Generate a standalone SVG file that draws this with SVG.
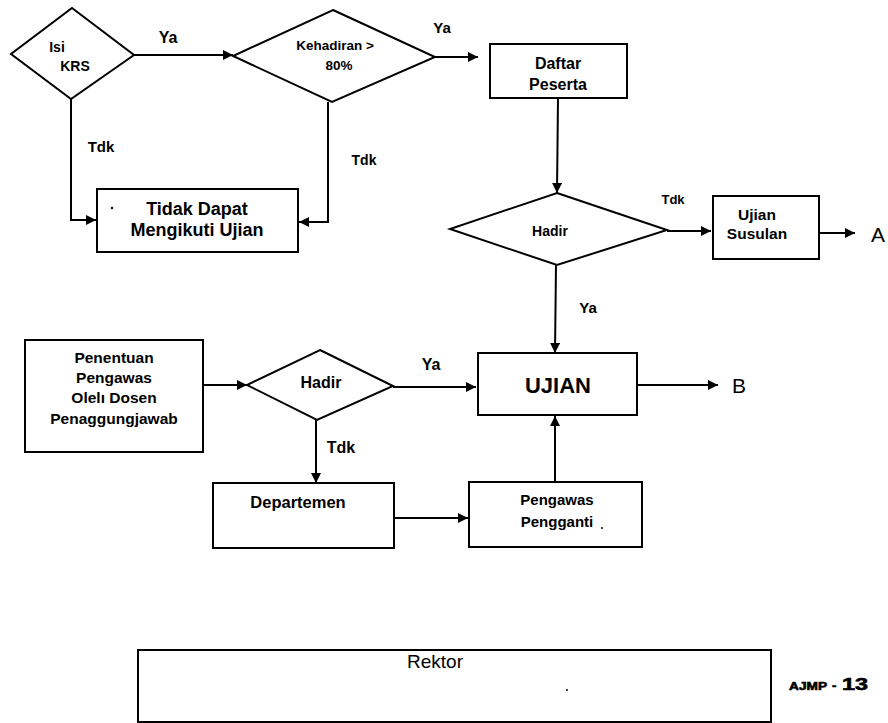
<svg xmlns="http://www.w3.org/2000/svg" width="888" height="723" viewBox="0 0 888 723">
  <style>
    .shape { fill: #fff; stroke: #000; stroke-width: 2; }
    .edge { fill: none; stroke: #000; stroke-width: 2; }
    .lbl { font-family: "Liberation Sans", Arial, sans-serif; font-weight: bold; fill: #000; text-anchor: middle; }
    .big { font-family: "Liberation Sans", Arial, sans-serif; fill: #000; }
    .heavy { font-family: "Liberation Sans", Arial, sans-serif; font-weight: bold; fill: #000; stroke: #000; stroke-width: 0.6; }
    .speck { fill: #000; }
  </style>
  <defs>
    <marker id="arrow" markerUnits="userSpaceOnUse" markerWidth="11" markerHeight="10" refX="10" refY="5" orient="auto">
      <path d="M0,0 L10,5 L0,10 Z" fill="#000"/>
    </marker>
  </defs>
  <rect width="888" height="723" fill="#fff"/>

  <!-- connectors -->
  <g id="connectors">
    <line class="edge" x1="134" y1="55" x2="233" y2="55" marker-end="url(#arrow)"/>
    <text class="lbl" x="168" y="43" font-size="16">Ya</text>
    <polyline class="edge" points="71,99 71,220 96,220" marker-end="url(#arrow)"/>
    <text class="lbl" x="101" y="152" font-size="15">Tdk</text>

    <line class="edge" x1="435" y1="57" x2="478" y2="57" marker-end="url(#arrow)"/>
    <text class="lbl" x="442" y="33" font-size="15">Ya</text>
    <polyline class="edge" points="328,102 328,222 299,222" marker-end="url(#arrow)"/>
    <text class="lbl" x="364" y="165" font-size="14">Tdk</text>

    <line class="edge" x1="558" y1="98" x2="557" y2="193" marker-end="url(#arrow)"/>
    <line class="edge" x1="667" y1="231" x2="711" y2="231" marker-end="url(#arrow)"/>
    <text class="lbl" x="673" y="204" font-size="13">Tdk</text>
    <line class="edge" x1="819" y1="233" x2="855" y2="233" marker-end="url(#arrow)"/>
    <text class="big" x="871" y="242" font-size="21">A</text>

    <line class="edge" x1="556" y1="265" x2="555" y2="353" marker-end="url(#arrow)"/>
    <text class="lbl" x="588" y="313" font-size="15">Ya</text>
    <line class="edge" x1="637" y1="385" x2="718" y2="385" marker-end="url(#arrow)"/>
    <text class="big" x="732" y="393" font-size="21">B</text>

    <line class="edge" x1="203" y1="385" x2="247" y2="385" marker-end="url(#arrow)"/>
    <line class="edge" x1="393" y1="387" x2="476" y2="387" marker-end="url(#arrow)"/>
    <text class="lbl" x="431" y="370" font-size="16">Ya</text>
    <line class="edge" x1="316" y1="420" x2="316" y2="483" marker-end="url(#arrow)"/>
    <text class="lbl" x="341" y="453" font-size="16">Tdk</text>
    <line class="edge" x1="394" y1="518" x2="468" y2="518" marker-end="url(#arrow)"/>
    <line class="edge" x1="555" y1="482" x2="555" y2="416" marker-end="url(#arrow)"/>
  </g>

  <g id="isi-krs">
    <polygon class="shape" points="72,8 134,55 71,99 11,54"/>
    <text class="lbl" x="57" y="52" font-size="14">Isi</text>
    <text class="lbl" x="75" y="71" font-size="14">KRS</text>
  </g>

  <g id="kehadiran">
    <polygon class="shape" points="333,10 435,57 332,102 233,56"/>
    <text class="lbl" x="335" y="50" font-size="13.5">Kehadiran &gt;</text>
    <text class="lbl" x="339" y="70" font-size="13.5">80%</text>
  </g>

  <g id="daftar-peserta">
    <rect class="shape" x="490" y="44" width="137" height="54"/>
    <text class="lbl" x="558" y="69" font-size="16">Daftar</text>
    <text class="lbl" x="558" y="90" font-size="16">Peserta</text>
  </g>

  <g id="tidak-dapat">
    <rect class="shape" x="97" y="189" width="201" height="63"/>
    <circle class="speck" cx="112" cy="208" r="1.2"/>
    <text class="lbl" x="197" y="215" font-size="18">Tidak Dapat</text>
    <text class="lbl" x="197" y="236" font-size="18">Mengikuti Ujian</text>
  </g>

  <g id="hadir-peserta">
    <polygon class="shape" points="557,193 667,230 557,265 450,229"/>
    <text class="lbl" x="550" y="236" font-size="14">Hadir</text>
  </g>

  <g id="ujian-susulan">
    <rect class="shape" x="713" y="196" width="106" height="63"/>
    <text class="lbl" x="757" y="220" font-size="15.5">Ujian</text>
    <text class="lbl" x="757" y="239" font-size="15.5">Susulan</text>
  </g>

  <g id="penentuan-pengawas">
    <rect class="shape" x="25" y="340" width="178" height="112"/>
    <text class="lbl" x="114" y="363" font-size="15.5">Penentuan</text>
    <text class="lbl" x="114" y="383" font-size="15.5">Pengawas</text>
    <text class="lbl" x="114" y="403" font-size="15.5">Olelı Dosen</text>
    <text class="lbl" x="114" y="424" font-size="15.5">Penaggungjawab</text>
  </g>

  <g id="hadir-pengawas">
    <polygon class="shape" points="320,350 393,386 317,420 247,385"/>
    <text class="lbl" x="321" y="388" font-size="16">Hadir</text>
  </g>

  <g id="ujian">
    <rect class="shape" x="478" y="353" width="159" height="62"/>
    <text class="lbl" x="558" y="393" font-size="22">UJIAN</text>
  </g>

  <g id="departemen">
    <rect class="shape" x="213" y="483" width="181" height="65"/>
    <text class="lbl" x="298" y="508" font-size="16.5">Departemen</text>
  </g>

  <g id="pengawas-pengganti">
    <rect class="shape" x="469" y="482" width="173" height="65"/>
    <text class="lbl" x="557" y="505" font-size="15">Pengawas</text>
    <text class="lbl" x="557" y="527" font-size="15">Pengganti</text>
    <circle class="speck" cx="602" cy="528" r="1"/>
  </g>

  <g id="rektor">
    <rect class="shape" x="138" y="650" width="633" height="72"/>
    <text class="big" x="435" y="668" font-size="19" text-anchor="middle">Rektor</text>
    <circle class="speck" cx="567" cy="690" r="1"/>
  </g>

  <g id="page-mark">
    <text class="heavy" x="789" y="690" font-size="11" textLength="38" lengthAdjust="spacingAndGlyphs">AJMP</text>
    <text class="heavy" x="832" y="690" font-size="13">-</text>
    <text class="heavy" x="842" y="690" font-size="16" textLength="26" lengthAdjust="spacingAndGlyphs">13</text>
  </g>
</svg>
